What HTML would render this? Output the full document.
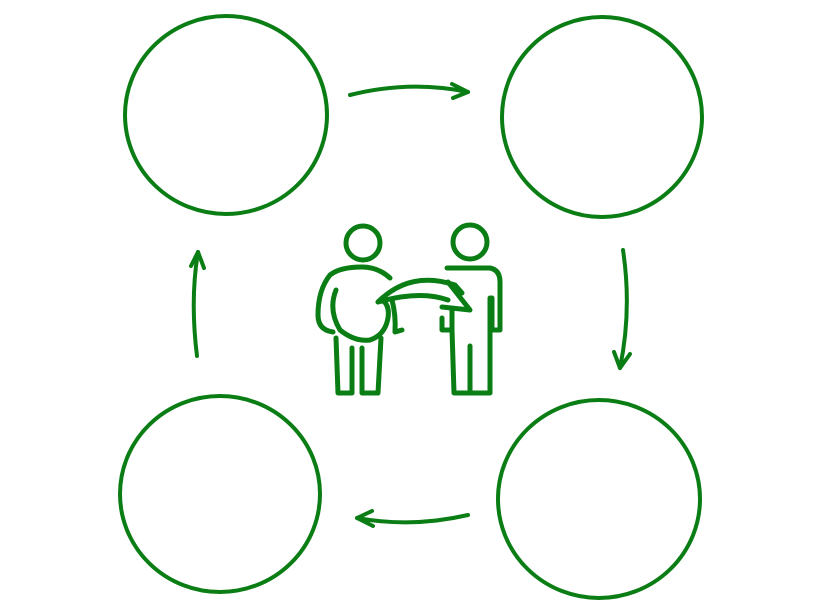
<!DOCTYPE html>
<html><head><style>html,body{margin:0;padding:0;background:#fff;width:830px;height:600px;overflow:hidden}</style></head>
<body>
<svg width="830" height="600" viewBox="0 0 830 600" xmlns="http://www.w3.org/2000/svg">
<g fill="none" stroke="#0a7d14" stroke-width="4" stroke-linecap="round" stroke-linejoin="round">
<ellipse cx="226" cy="115" rx="101" ry="99"/>
<ellipse cx="602" cy="117" rx="100" ry="100"/>
<ellipse cx="220" cy="494" rx="100" ry="98"/>
<ellipse cx="599" cy="499" rx="101" ry="99"/>
<path d="M350 95 Q410 80 468 92"/><path d="M452 84 L468 92 L453 98"/>
<path d="M623 250 Q632 310 620 368"/><path d="M614 352 L620 368 L630 354"/>
<path d="M468 515 Q412 528 357 518"/><path d="M372 511 L357 518 L373 526"/>
<path d="M197 356 Q190 300 198 252"/><path d="M191 266 L198 252 L204 268"/>
</g>
<g fill="none" stroke="#0a7d14" stroke-width="5" stroke-linecap="round" stroke-linejoin="round">
<circle cx="363" cy="243" r="17"/>
<circle cx="470" cy="242" r="17"/>
<path d="M390 278 Q378 267 362 267 Q340 267 330 275 Q318 290 318 315 Q318 330 333 332"/>
<path d="M336 290 Q328 310 340 330 Q355 342 370 340 Q385 335 388 318 Q390 305 382 300"/>
<path d="M392 300 Q396 315 395 332 L402 330"/>
<path d="M336 338 L338 393 L352 393 L352 348"/>
<path d="M362 348 L362 393 L378 393 L381 338"/>
<path d="M378 302 Q410 270 455 285 L462 293"/>
<path d="M448 282 L470 310 L442 307"/>
<path d="M378 302 Q420 290 448 300"/>
<path d="M447 268 Q460 268 490 268 Q500 270 500 282 L500 330 L492 330 L492 298"/>
<path d="M442 318 L442 330 L452 330 L452 310"/>
<path d="M452 330 L454 393 L470 393 L470 346"/>
<path d="M470 393 L490 393 L490 298"/>
</g>
</svg>
</body></html>
